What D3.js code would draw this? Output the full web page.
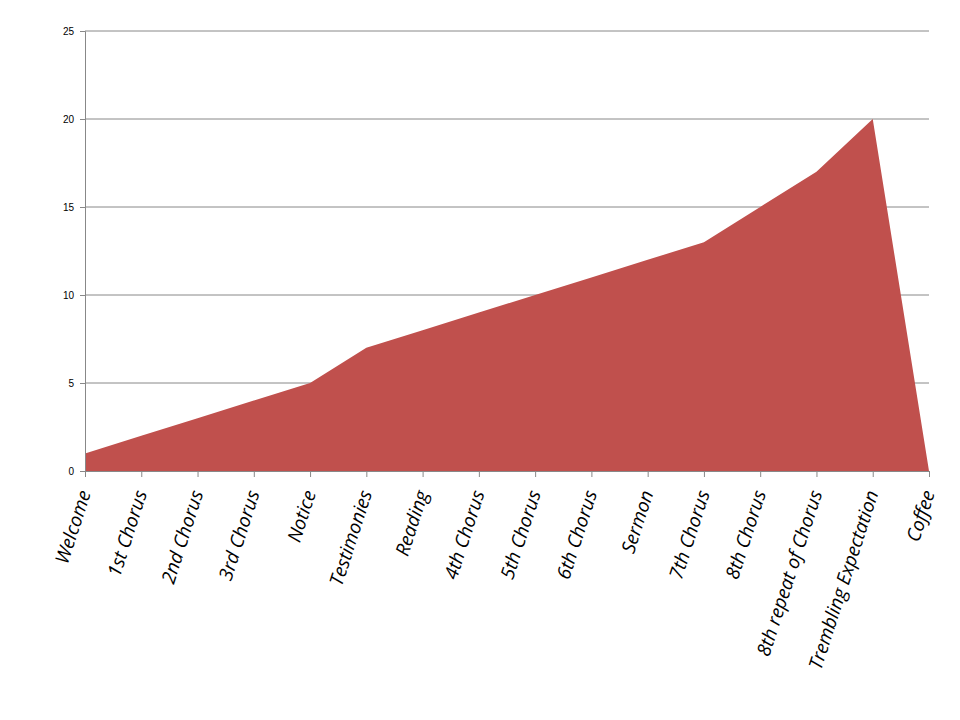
<!DOCTYPE html>
<html><head><meta charset="utf-8">
<script src="https://cdn.jsdelivr.net/npm/d3@7"></script>
<style>body{margin:0;background:#fff}</style>
</head><body>
<svg id="c" width="960" height="720"></svg>
<script>
const categories = ["Welcome","1st Chorus","2nd Chorus","3rd Chorus","Notice","Testimonies","Reading","4th Chorus","5th Chorus","6th Chorus","Sermon","7th Chorus","8th Chorus","8th repeat of Chorus","Trembling Expectation","Coffee"];
const values = [1,2,3,4,5,7,8,9,10,11,12,13,15,17,20,0];
const yTicks = [0,5,10,15,20,25];

const svg = d3.select("#c");
const x = d3.scalePoint().domain(categories).range([85, 929]);
const y = d3.scaleLinear().domain([0, 25]).range([471, 31]);

// gridlines
svg.append("g").selectAll("line").data(yTicks.slice(1)).join("line")
  .attr("x1", 85).attr("x2", 929).attr("y1", d => y(d)).attr("y2", d => y(d))
  .attr("stroke", "#888").attr("stroke-width", 1);

svg.append("path").datum(values)
  .attr("fill", "#C0504D")
  .attr("d", d3.area().x((d, i) => x(categories[i])).y0(y(0)).y1(d => y(d)));

const ya = svg.append("g").attr("transform", "translate(85,0)")
  .call(d3.axisLeft(y).tickValues(yTicks).tickSize(5).tickPadding(6));
ya.select(".domain").attr("stroke", "#888");
ya.selectAll("line").attr("stroke", "#888");
ya.selectAll("text").attr("font-family", "Liberation Sans, Arial").attr("font-size", 10).attr("fill", "#000");

const xa = svg.append("g").attr("transform", `translate(0,${y(0)})`)
  .call(d3.axisBottom(x).tickSize(6).tickFormat(""));
xa.select(".domain").attr("stroke", "#888");
xa.selectAll("line").attr("stroke", "#888");

svg.append("g").selectAll("text").data(categories).join("text")
  .attr("transform", d => `translate(${x(d) + 6},${y(0) + 22}) rotate(-72)`)
  .attr("text-anchor", "end")
  .attr("font-family", "Open Sans, DejaVu Sans, sans-serif")
  .attr("font-style", "italic")
  .attr("font-size", 19)
  .text(d => d);
</script>
</body></html>
